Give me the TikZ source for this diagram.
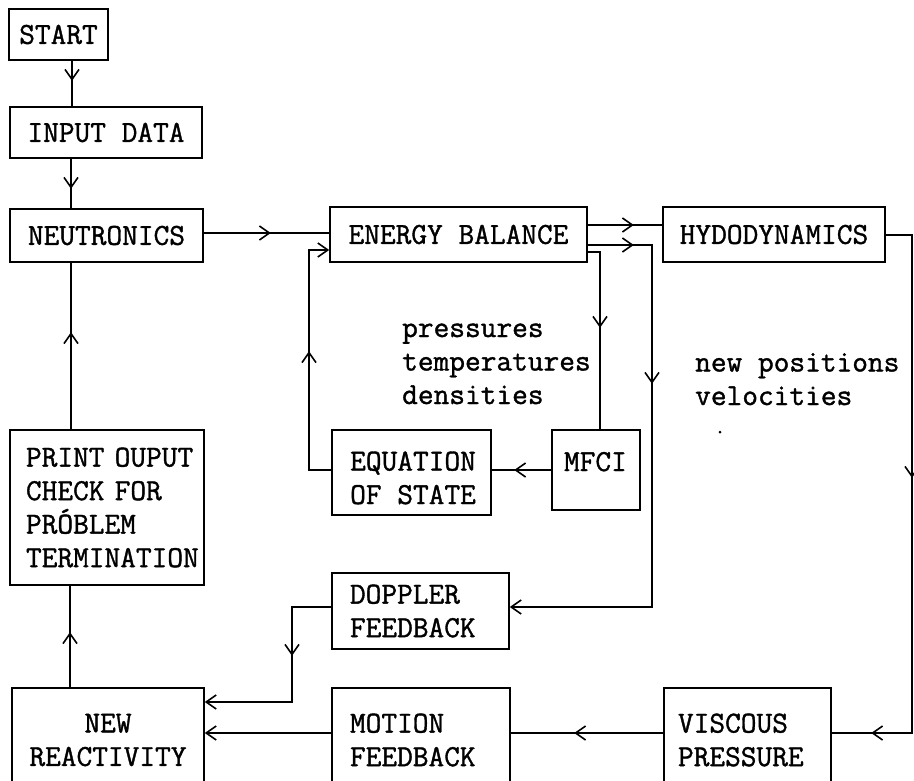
\documentclass[tikz,border=0pt]{standalone}
\usepackage{fontspec}
\newfontfamily\twfont{Latin Modern Mono}[FakeBold=1.2]
\usetikzlibrary{arrows.meta,decorations.markings}
\tikzset{
  tipA/.tip={Straight Barb[length=10pt,width=14pt]},
  box/.style={draw, line width=1.6pt, inner sep=0pt},
  ln/.style={line width=1.6pt},
  am/.style={postaction={decorate,decoration={markings,mark=at position #1 with {\arrow{tipA}}}}},
}
\begin{document}
\begin{tikzpicture}[x=1pt,y=-1pt,
  every node/.style={font=\fontsize{30.5}{33.5}\selectfont\twfont}]
\useasboundingbox (0,0) rectangle (914,780);
\fill[white] (0,0) rectangle (914,780);
\clip (0,0) rectangle (914,780);

% boxes
\node[box, minimum width=99pt, minimum height=51pt] (start) at (58.5,34.5) {START};
\node[box, minimum width=192pt, minimum height=51pt] (input) at (106,132.5) {INPUT DATA};
\node[box, minimum width=193pt, minimum height=53pt] (neu) at (106.5,235.5) {NEUTRONICS};
\node[box, minimum width=257pt, minimum height=55pt] (eb) at (458.5,234.5) {ENERGY BALANCE};
\node[box, minimum width=222pt, minimum height=55pt] (hydo) at (774,234.5) {HYDODYNAMICS};
\node[box, align=left, text width=162pt, inner xsep=16pt, minimum height=155pt] (print) at (107,507.5) {\mbox{PRINT OUPUT}\\\mbox{CHECK FOR}\\\mbox{PRÓBLEM}\\\mbox{TERMINATION}};
\node[box, minimum width=159pt, minimum height=85pt] (eos) at (411.5,472.5) {};
\node[anchor=base west, align=left, inner sep=0pt] (teos) at (350,504) {EQUATION\\\mbox{OF STATE}};
\node[box, align=left, text width=64pt, inner xsep=12pt, minimum height=80pt, text height=18pt, text depth=16pt] (mfci) at (596,470) {MFCI};
\node[box, align=left, text width=141pt, inner xsep=18pt, minimum height=76pt] (dop) at (420.5,611) {DOPPLER\\FEEDBACK};
\node[box, align=center, minimum width=192pt, minimum height=104pt] (nr) at (108,740) {NEW\\REACTIVITY};
\node[box, align=left, text width=142pt, inner xsep=18pt, minimum height=104pt] (mot) at (421,740) {MOTION\\FEEDBACK};
\node[box, align=left, text width=139pt, inner xsep=14pt, minimum height=104pt] (visc) at (747.5,740) {VISCOUS\\PRESSURE};

% free texts (base anchor = last line)
\node[anchor=base west, align=left, inner sep=0pt] (ptd) at (402,404) {pressures\\temperatures\\densities};
\node[anchor=base west, align=left, inner sep=0pt] (npv) at (695,405) {new positions\\velocities};
\node[circle, fill, inner sep=0pt, minimum size=3pt] (speck) at (720,432) {};

% helper coordinates
\coordinate (xa) at (72,0);
\coordinate (xb) at (71,0);
\coordinate (xc) at (70,0);
\coordinate (ya) at (0,233);
\coordinate (k1) at (309,470);
\coordinate (k2) at (309,250);
\coordinate (k3) at (600,252);
\coordinate (k4) at (652,245);
\coordinate (k5) at (652,607);
\coordinate (k6) at (0,225);
\coordinate (k7) at (912,235);
\coordinate (k8) at (912,733);
\coordinate (k9) at (292,607);
\coordinate (k10) at (292,702);

% connectors
\draw[ln, am=20pt] (start.south -| xa) -- (input.north -| xa);
\draw[ln, am=30pt] (input.south -| xb) -- (neu.north -| xb);
\draw[ln, am=67pt] (neu.east |- ya) -- (eb.west |- ya);
\draw[ln, am=97pt] (print.north -| xb) -- (neu.south -| xb);
\draw[ln, am=55pt] (nr.north -| xc) -- (print.south -| xc);
\draw[ln, am=141pt, -tipA] (eos.west |- k1) -- (k1) -- (k2) -- (eb.west |- k2);
\draw[ln, am=37pt] (mfci.west |- k1) -- (eos.east |- k1);
\draw[ln, am=88pt] (eb.east |- k3) -- (k3) -- (mfci.north -| k3);
\draw[ln, am=46pt, am=203pt, -tipA] (eb.east |- k4) -- (k4) -- (k5) -- (dop.east |- k5);
\draw[ln, am=46pt] (eb.east |- k6) -- (hydo.west |- k6);
\draw[ln, am=269pt, am=565pt] (hydo.east |- k7) -- (k7) -- (k8) -- (visc.east |- k8);
\draw[ln, am=89pt] (visc.west |- k8) -- (mot.east |- k8);
\draw[ln, -tipA] (mot.west |- k8) -- (nr.east |- k8);
\draw[ln, am=88pt, -tipA] (dop.west |- k9) -- (k9) -- (k10) -- (nr.east |- k10);
\end{tikzpicture}
\end{document}
